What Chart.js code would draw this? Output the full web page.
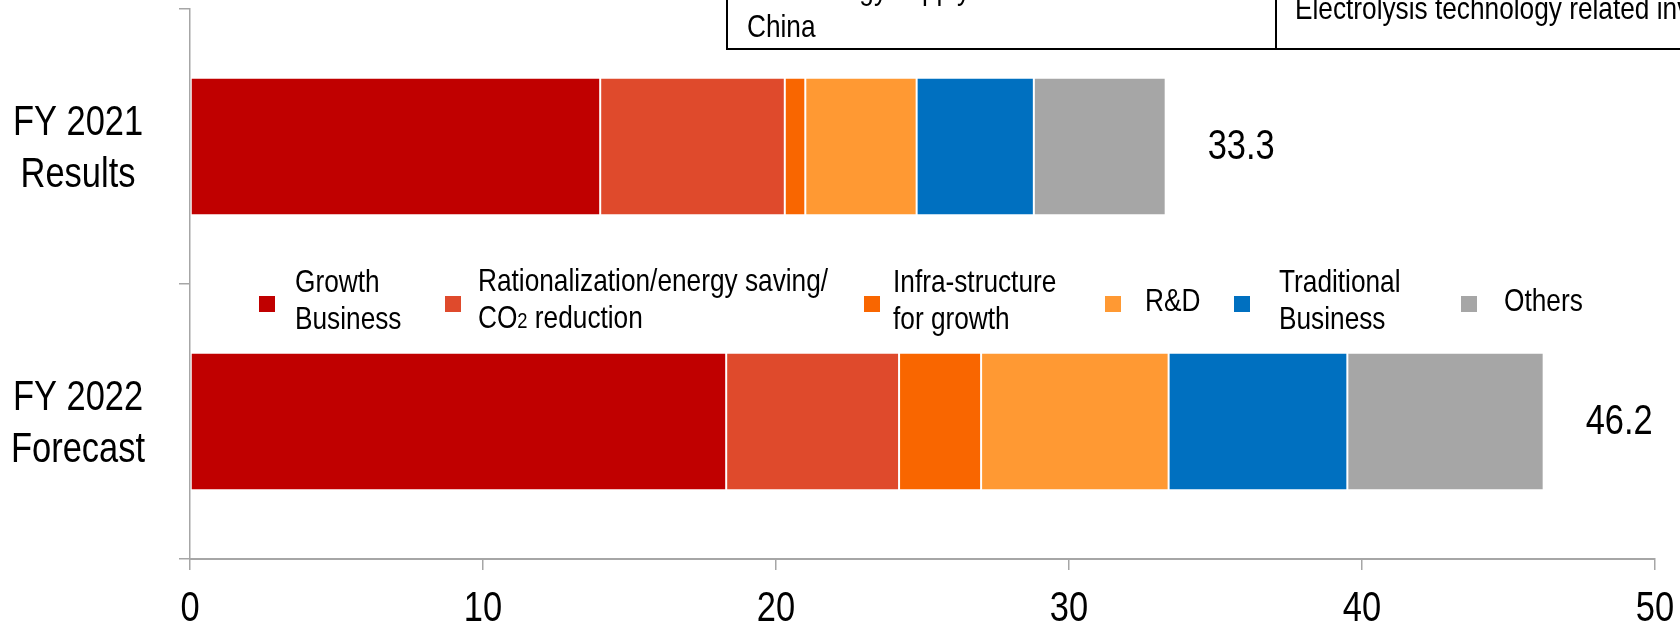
<!DOCTYPE html>
<html>
<head>
<meta charset="utf-8">
<script src="https://cdn.jsdelivr.net/npm/chart.js@4.4.0/dist/chart.umd.min.js"></script>
<style>
  body { margin: 0; background: #fff; }
  #wrap { position: relative; width: 1680px; height: 625px; overflow: hidden;
          font-family: 'Liberation Sans', Arial, sans-serif; }
  #wrap canvas { position: absolute; left: 0; top: 0; }
  .note { position: absolute; top: -40px; height: 88px; border-bottom: 2px solid #000;
          font-size: 32px; line-height: 38px; color: #000; }
  .note .txt { position: absolute; white-space: nowrap; transform: scaleX(0.82); transform-origin: left top; }
  .leg { position: absolute; white-space: nowrap; font-size: 32px; line-height: 37px; color: #000;
         transform: translateY(-50%) scaleX(0.82); transform-origin: left center; }
  .sq { position: absolute; width: 16px; height: 16px; }
  .small { font-size: 70%; }
</style>
</head>
<body>
<div id="wrap">
  <canvas id="myChart" width="1680" height="625"></canvas>
  <div class="note" style="left:726px; width:547px; border-left:2px solid #000; border-right:2px solid #000;">
    <div class="txt" style="left:19px; top:9px;">New energy supply in<br>China</div>
  </div>
  <div class="note" style="left:1275px; width:420px;">
    <div class="txt" style="left:20px; top:29px;">Electrolysis technology related investment</div>
  </div>
  <div id="legend"></div>
</div>
<script>
// categories and series (billion yen)
const categories = [['FY 2021', 'Results'], ['FY 2022', 'Forecast']];
const seriesNames = ['Growth Business', 'Rationalization/energy saving/CO2 reduction', 'Infra-structure for growth', 'R&D', 'Traditional Business', 'Others'];
const growth = [14.0, 18.3];
const rationalization = [6.3, 5.9];
const infra = [0.7, 2.8];
const rnd = [3.8, 6.4];
const traditional = [4.0, 6.1];
const others = [4.5, 6.7];
const xTicks = [0, 10, 20, 30, 40, 50];

const seriesValues = [growth, rationalization, infra, rnd, traditional, others];
const seriesColors = ['#c00000', '#df4a2c', '#f96600', '#ff9933', '#0070c0', '#a6a6a6'];
const legendText = ['Growth<br>Business', 'Rationalization/energy saving/<br>CO<span class="small">2</span> reduction', 'Infra-structure<br>for growth', 'R&amp;D', 'Traditional<br>Business', 'Others'];
// legend layout: square x, text x
const legendPos = [[259, 295], [445, 478], [864, 893], [1105, 1145], [1234, 1279], [1461, 1504]];

const fontFam = "'Liberation Sans', Arial, sans-serif";
const narrow = 0.82;   // squeeze to look like Arial Narrow
const axisGray = '#a6a6a6';

let legendHtml = '';
legendText.forEach((txt, i) => {
  legendHtml += '<div class="sq" style="left:' + legendPos[i][0] + 'px; top:296px; background:' + seriesColors[i] + ';"></div>';
  legendHtml += '<div class="leg" style="left:' + legendPos[i][1] + 'px; top:300px;">' + txt + '</div>';
});
document.getElementById('legend').innerHTML = legendHtml;

function narrowText(ctx, text, x, y) {
  ctx.save();
  ctx.translate(x, y);
  ctx.scale(narrow, 1);
  ctx.fillText(text, 0, 0);
  ctx.restore();
}

// draws tick labels and totals with narrow text
const labelsPlugin = {
  id: 'labels',
  afterDraw(chart) {
    const ctx = chart.ctx;
    const xs = chart.scales.x;
    const ys = chart.scales.y;
    ctx.save();
    ctx.fillStyle = '#000';
    ctx.font = '42px ' + fontFam;

    ctx.textAlign = 'center';
    ctx.textBaseline = 'alphabetic';
    xTicks.forEach(v => {
      narrowText(ctx, String(v), xs.getPixelForValue(v), xs.top + 62);
    });

    categories.forEach((lines, i) => {
      const py = ys.getPixelForValue(i);
      narrowText(ctx, lines[0], 78, py - 12);
      narrowText(ctx, lines[1], 78, py + 40);
    });

    const last = chart.getDatasetMeta(chart.data.datasets.length - 1);
    ctx.textAlign = 'left';
    ctx.textBaseline = 'middle';
    categories.forEach((c, i) => {
      let total = 0;
      seriesValues.forEach(s => { total += s[i]; });
      const bar = last.data[i];
      narrowText(ctx, total.toFixed(1), bar.x + 42, bar.y + 1);
    });
    ctx.restore();
  }
};

const datasets = seriesNames.map((name, i) => ({
  label: name,
  data: seriesValues[i],
  backgroundColor: seriesColors[i],
  borderColor: '#ffffff',
  borderWidth: 1,
  borderSkipped: false,
  categoryPercentage: 0.5,
  barPercentage: 1
}));

const myChart = new Chart(document.getElementById('myChart'), {
  type: 'bar',
  data: { labels: categories, datasets: datasets },
  options: {
    indexAxis: 'y',
    responsive: false,
    animation: false,
    layout: { padding: { top: 9, right: 25, left: 0, bottom: 0 } },
    plugins: { legend: { display: false }, tooltip: { enabled: false } },
    scales: {
      x: {
        stacked: true,
        min: xTicks[0],
        max: xTicks[xTicks.length - 1],
        afterBuildTicks(scale) { scale.ticks = xTicks.map(v => ({ value: v })); },
        afterFit(scale) { scale.height = 66; },
        grid: { drawOnChartArea: false, tickLength: 11, color: axisGray, lineWidth: 1.5 },
        border: { color: axisGray, width: 2 },
        ticks: { display: false }
      },
      y: {
        stacked: true,
        afterFit(scale) { scale.width = 190; },
        grid: { drawOnChartArea: false, tickLength: 11, color: axisGray, lineWidth: 1.5, offset: true },
        border: { color: axisGray, width: 1.5 },
        ticks: { display: false }
      }
    }
  },
  plugins: [labelsPlugin]
});
</script>
</body>
</html>
